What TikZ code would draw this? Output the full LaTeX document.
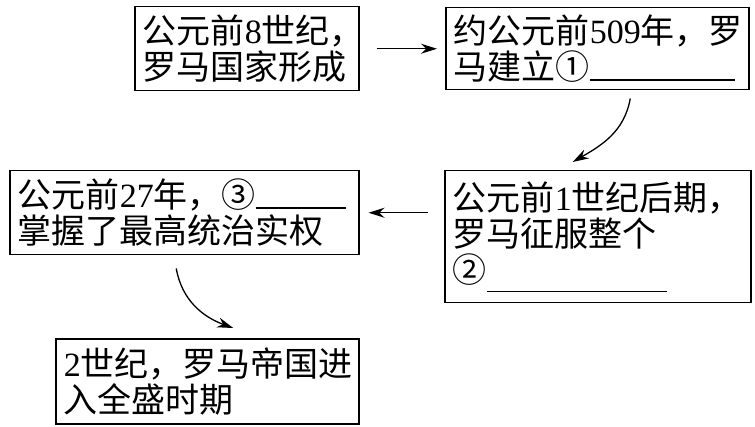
\documentclass[tikz,border=0pt]{standalone}
\usepackage{fontspec}
\setmainfont{Noto Sans CJK SC}
\newfontfamily\latin{Liberation Serif}
\usepackage{tikz}
\usetikzlibrary{arrows.meta, positioning, calc}

\tikzset{
    box/.style={draw, line width=1.5pt, anchor=north west, align=left,
        inner xsep=8pt, inner ysep=0pt, font=\fontsize{34}{36}\selectfont},
    flow/.style={line width=1.3pt, -{Stealth[length=16pt,width=10pt]}}
}
\newcommand{\blank}[2][-1pt]{\rule[#1]{#2}{1.2pt}}
\newcommand{\eol}{\makebox[0.5em][l]{，}}

\begin{document}
\begin{tikzpicture}[x=1pt,y=1pt]
    \useasboundingbox (0,0) rectangle (755,426);

    % boxes
    \node[box, text width=208pt, minimum height=84pt] (bc8) at (134,420)
        {公元前{\latin 8}世纪\eol\\罗马国家形成};
    \node[box, text width=287pt, minimum height=82pt] (bc509) at (445,419)
        {约公元前{\latin 509}年，罗\\马建立①\blank{145pt}};
    \node[box, text width=290pt, minimum height=132pt] (bc1) at (444,256)
        {公元前{\latin 1}世纪后期\eol\\罗马征服整个\\②\blank[-10pt]{180pt}\\[-6pt]};
    \node[box, text width=333pt, minimum height=84pt] (bc27) at (9,256)
        {公元前{\latin 27}年，③\blank{90pt}\\掌握了最高统治实权};
    \node[box, text width=287pt, minimum height=85pt] (ad2) at (55,88)
        {{\latin 2}世纪，罗马帝国进\\入全盛时期};

    % arrows
    \draw[flow, shorten <=17pt, shorten >=8pt] (bc8.east) -- (bc509.west);
    \draw[flow] ([xshift=33pt,yshift=-8pt]bc509.south)
        to[out=-100, in=30] ([xshift=-25pt,yshift=8pt]bc1.north);
    \draw[flow, shorten <=16pt, shorten >=9pt] (bc1.west |- bc27.east) -- (bc27.east);
    \draw[flow] ([xshift=-8pt,yshift=-13pt]bc27.south)
        to[out=-80, in=160] ([xshift=26pt,yshift=10pt]ad2.north);
\end{tikzpicture}
\end{document}
